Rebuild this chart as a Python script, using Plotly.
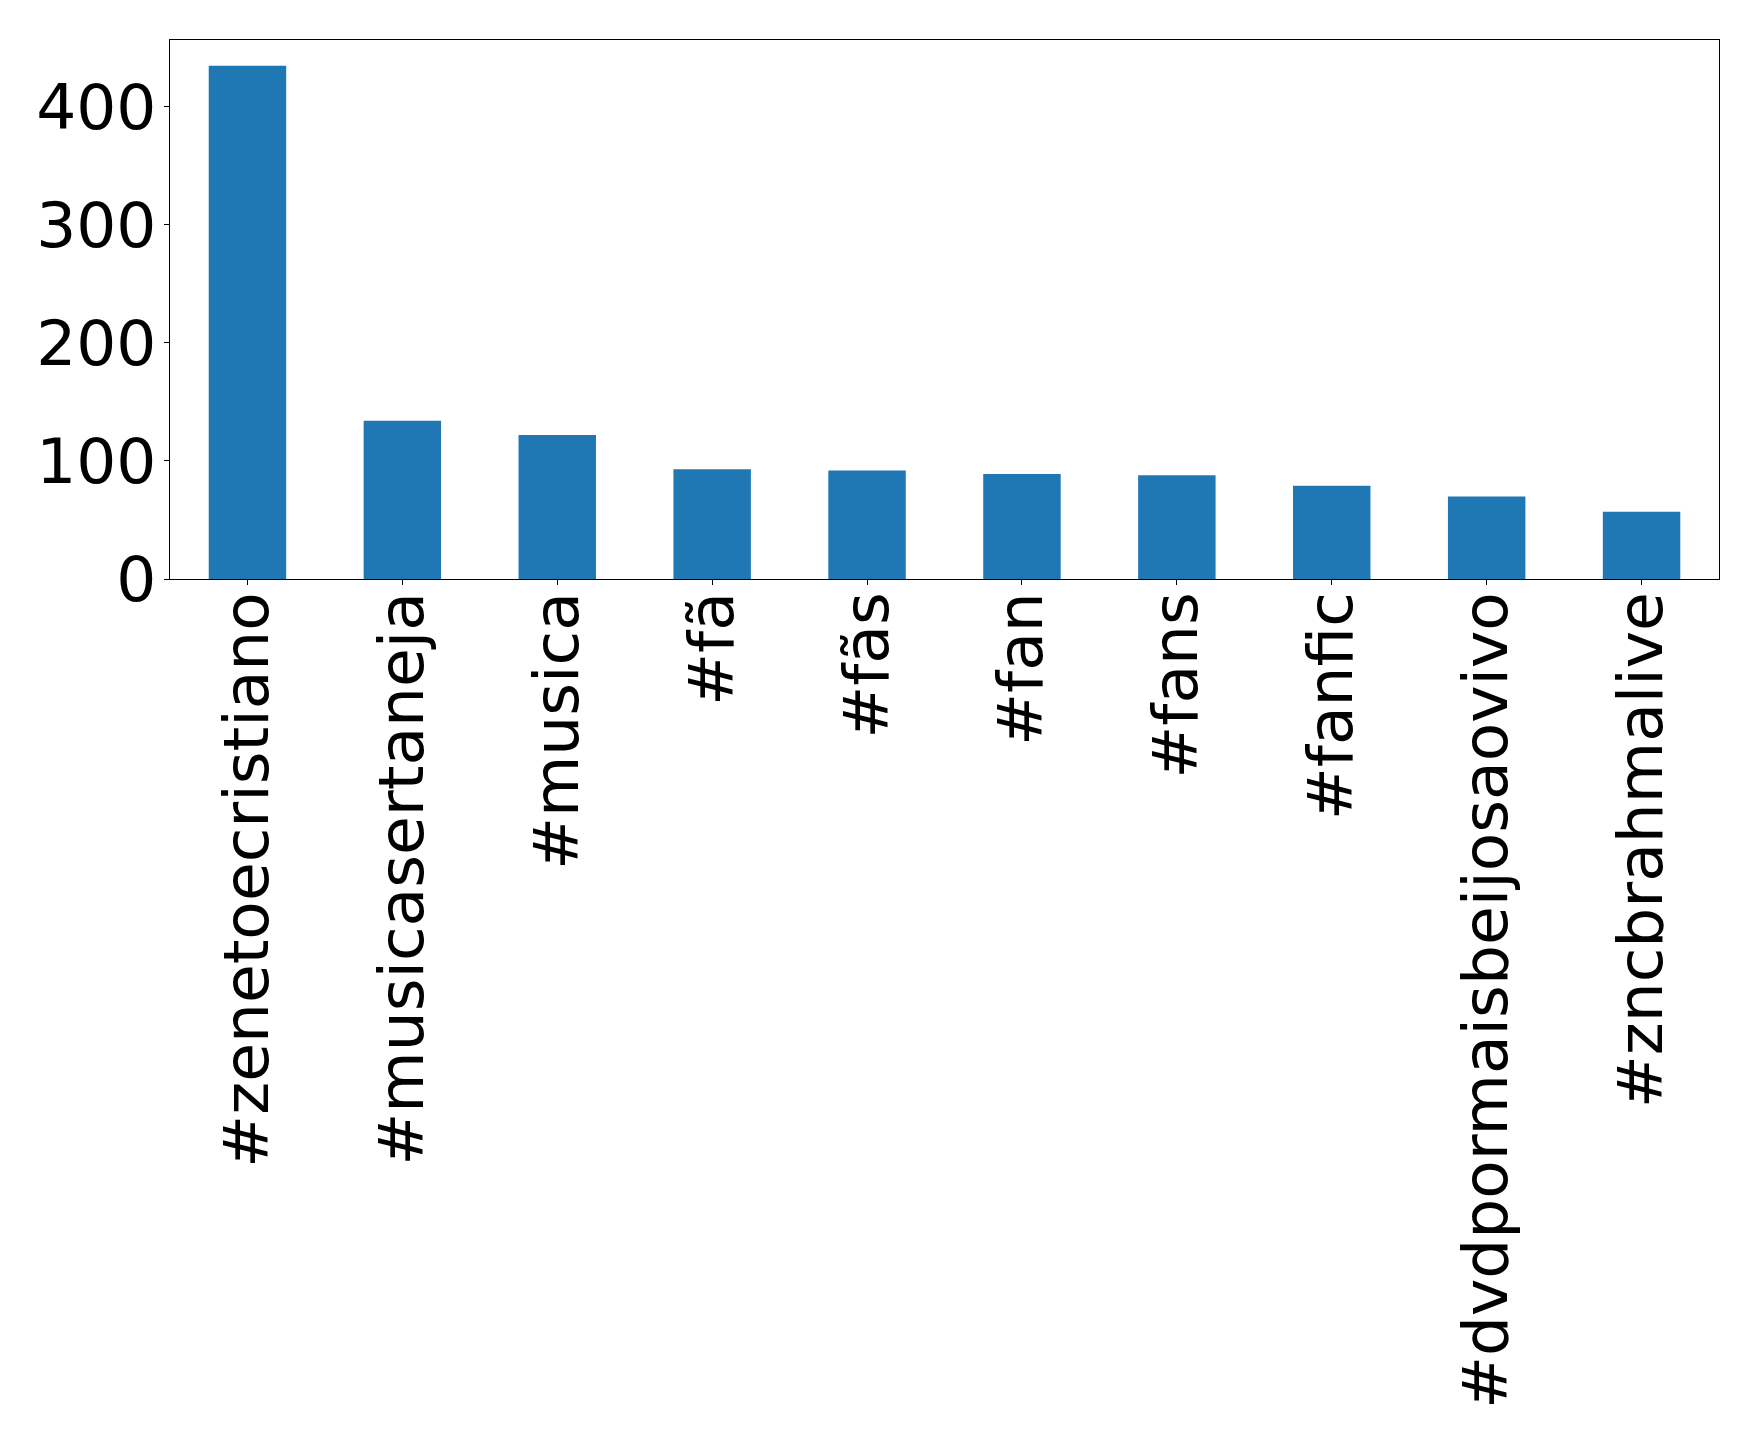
import plotly.graph_objects as go

categories = ["#zenetoecristiano", "#musicasertaneja", "#musica", "#fã", "#fãs",
              "#fan", "#fans", "#fanfic", "#dvdpormaisbeijosaovivo", "#zncbrahmalive"]
counts = [435, 134, 122, 93, 92, 89, 88, 79, 70, 57]
y_ticks = [0, 100, 200, 300, 400]

fig = go.Figure(go.Bar(x=list(range(len(categories))), y=counts,
                       marker=dict(color="#1f77b4", line=dict(width=0)), width=0.5))

fig.update_layout(
    width=1759, height=1438,
    margin=dict(l=162, r=48, t=32, b=867),
    plot_bgcolor="white", paper_bgcolor="white",
    font=dict(family="DejaVu Sans", size=63, color="black"),
    showlegend=False,
)
fig.update_xaxes(
    range=[-0.5, len(categories) - 0.5],
    tickmode="array", tickvals=list(range(len(categories))), ticktext=categories,
    tickangle=-90, ticks="outside", ticklen=5, tickcolor="black",
    showline=True, linecolor="black", linewidth=1, mirror=True,
    showgrid=False, zeroline=False, ticklabelstandoff=-18,
)
fig.update_yaxes(
    range=[0, 456.75], tickvals=y_ticks, ticks="outside", ticklen=5, tickcolor="black",
    showline=True, linecolor="black", linewidth=1, mirror=True,
    showgrid=False, zeroline=False, ticklabelstandoff=-5,
)

fig.write_html("out.html")
